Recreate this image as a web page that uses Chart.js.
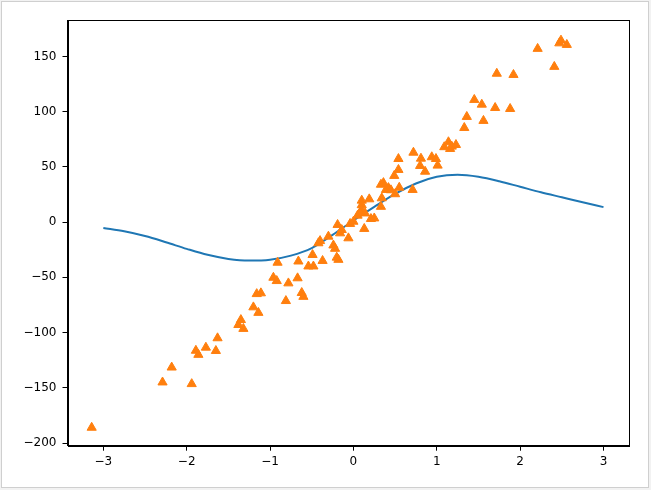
<!DOCTYPE html>
<html>
<head>
<meta charset="utf-8">
<script src="https://cdn.jsdelivr.net/npm/chart.js@4.4.1/dist/chart.umd.min.js"></script>
<style>
  html, body { margin: 0; padding: 0; background: #f2f2f2; }
  #frame { position: absolute; left: 1px; top: 1px; width: 646px; height: 485px; background: #fff; border: 1px solid #cfcfcf; }
  #wrap { position: absolute; left: 0; top: 0; width: 651px; height: 490px; }
</style>
</head>
<body>
<div id="frame"></div>
<div id="wrap"><canvas id="chart" width="651" height="490"></canvas></div>
<script>
// curve (blue line)
const lineX = [-3, -2.75, -2.5, -2.25, -2, -1.75, -1.5, -1.25, -1, -0.75, -0.5, -0.25, 0,
  0.25, 0.5, 0.75, 1, 1.25, 1.5, 1.75, 2, 2.25, 2.5, 2.75, 3];
const lineY = [-5.4, -8.3, -12.6, -18.2, -24.2, -29.6, -33.3, -34.8, -34, -30.3, -23.5, -11.5, 1.5,
  13.8, 25.5, 35, 41, 42.8, 41, 37, 32, 27, 22.5, 18, 13.6];

// samples (orange triangles)
const scatterX = [-3.14, -2.29, -2.18, -1.94, -1.89, -1.86, -1.77, -1.65, -1.63, -1.38, -1.35, -1.32,
  -1.20, -1.14, -1.16, -1.11, -0.96, -0.92, -0.91, -0.81, -0.78, -0.67, -0.66, -0.62, -0.60,
  -0.54, -0.48, -0.49, -0.42, -0.40, -0.37, -0.30, -0.24, -0.22, -0.18, -0.20, -0.19, -0.16,
  -0.14, -0.06, -0.04, 0.00, 0.05, 0.10, 0.10, 0.10, 0.08, 0.14, 0.13, 0.19, 0.21, 0.25,
  0.33, 0.34, 0.33, 0.36, 0.39, 0.42, 0.45, 0.49, 0.50, 0.55, 0.54, 0.54, 0.71, 0.72, 0.81,
  0.80, 0.86, 0.94, 0.99, 1.01, 1.09, 1.14, 1.16, 1.18, 1.23, 1.33, 1.36, 1.45, 1.54, 1.56,
  1.70, 1.72, 1.88, 1.92, 2.21, 2.41, 2.47, 2.49, 2.56];
const scatterY = [-186, -145, -131.5, -146.5, -116.3, -120, -113.5, -116.5, -105, -93, -88.5, -96.5,
  -77, -82, -65, -64.3, -50.2, -53.2, -36.6, -71.3, -55.3, -50.7, -35.5, -64, -67.5,
  -40, -40, -29.6, -19, -17, -35, -13, -21, -24, -34, -32, -2.4, -10,
  -7, -14.5, -1.5, 0.5, 6, 19.6, 15.5, 11, 9, 8, -6, 20.8, 3, 3.5,
  14, 21.7, 34, 35.5, 29.3, 31, 29, 42, 25.4, 31.3, 47.4, 57.3, 29.3, 63, 57.6,
  51, 45.8, 58.9, 57.3, 51.3, 68, 72.5, 66.4, 68.5, 70, 85.4, 95.4, 110.8, 106.5, 91.8,
  103.5, 134.5, 102.6, 133.4, 157, 140.7, 162, 164.5, 160.6];

const xTicks = [-3, -2, -1, 0, 1, 2, 3];
const yTicks = [-200, -150, -100, -50, 0, 50, 100, 150];

const toPoints = (xs, ys) => xs.map((x, i) => ({ x: x, y: ys[i] }));

// matplotlib style closed box around the axes
const boxPlugin = {
  id: 'box',
  afterDraw(chart) {
    const a = chart.chartArea;
    const ctx = chart.ctx;
    ctx.save();
    ctx.strokeStyle = '#000';
    ctx.lineWidth = 1;
    ctx.strokeRect(Math.round(a.left) + 0.5, Math.round(a.top) + 0.5,
      Math.round(a.right - a.left), Math.round(a.bottom - a.top));
    ctx.restore();
  }
};

const tickFont = { family: 'DejaVu Sans', size: 12 };

new Chart(document.getElementById('chart'), {
  type: 'scatter',
  data: {
    datasets: [
      {
        type: 'scatter',
        data: toPoints(scatterX, scatterY),
        pointStyle: 'triangle',
        pointRadius: 5.3,
        backgroundColor: '#ff7f0e',
        borderColor: '#ff7f0e',
        borderWidth: 1,
        order: 0
      },
      {
        type: 'line',
        data: toPoints(lineX, lineY),
        borderColor: '#1f77b4',
        borderWidth: 2,
        pointRadius: 0,
        cubicInterpolationMode: 'monotone',
        fill: false,
        order: 1
      }
    ]
  },
  options: {
    responsive: false,
    animation: false,
    layout: { padding: { left: 0, top: 20, right: 22.5, bottom: 0 } },
    plugins: { legend: { display: false }, tooltip: { enabled: false } },
    scales: {
      x: {
        type: 'linear',
        min: -3.43,
        max: 3.30,
        afterBuildTicks: s => { s.ticks = xTicks.map(v => ({ value: v })); },
        afterFit: s => { s.height = 44.3; },
        grid: { drawOnChartArea: false, drawTicks: true, tickLength: 5, color: '#000' },
        border: { display: true, color: '#000' },
        ticks: { color: '#000', font: tickFont, padding: 4, maxRotation: 0,
          callback: v => String(v).replace('-', '\u2212') }
      },
      y: {
        type: 'linear',
        min: -202.4,
        max: 183,
        afterBuildTicks: s => { s.ticks = yTicks.map(v => ({ value: v })); },
        afterFit: s => { s.width = 67.5; },
        grid: { drawOnChartArea: false, drawTicks: true, tickLength: 5, color: '#000' },
        border: { display: true, color: '#000' },
        ticks: { color: '#000', font: tickFont, padding: 6,
          callback: v => String(v).replace('-', '\u2212') }
      }
    }
  },
  plugins: [boxPlugin]
});
</script>
</body>
</html>
